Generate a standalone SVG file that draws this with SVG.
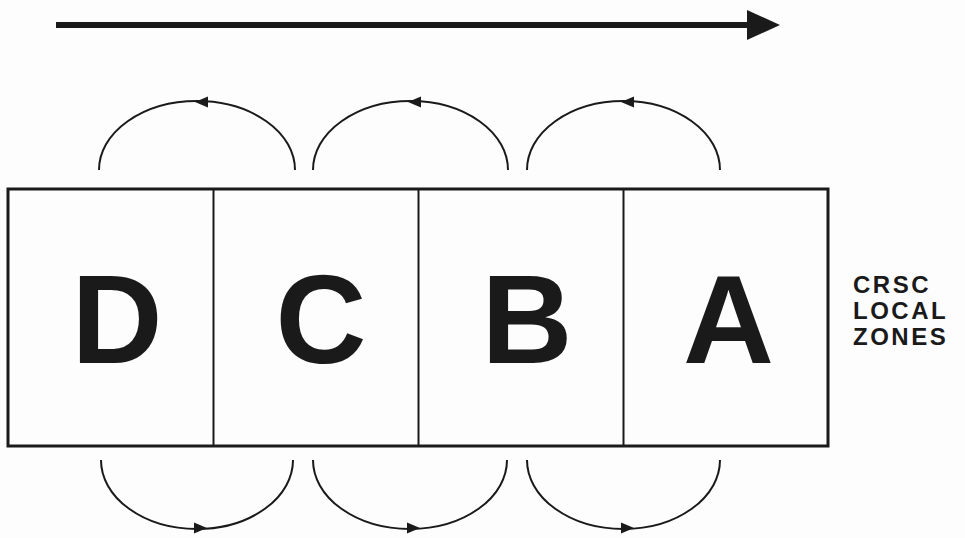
<svg xmlns="http://www.w3.org/2000/svg" width="965" height="538" viewBox="0 0 965 538">
<style>
.arc{fill:none;stroke:#1a1a1a;stroke-width:2}
.head{fill:#1a1a1a}
.zone{font-family:"Liberation Sans",Arial,sans-serif;font-weight:bold;font-size:126px;fill:#1a1a1a;text-anchor:middle}
.lbl{font-family:"Liberation Sans",Arial,sans-serif;font-weight:bold;font-size:24px;fill:#1a1a1a;letter-spacing:2.5px}
</style>
<rect width="965" height="538" fill="#fdfdfd"/>
<g id="connectors">
  <line x1="56" y1="25" x2="750" y2="25" stroke="#1a1a1a" stroke-width="6"/>
  <polygon class="head" points="747,10 780,25 747,40"/>
  <path class="arc" d="M99,170 A98,69 0 0 1 295,170"/>
  <path class="arc" d="M313,170 A97.5,69 0 0 1 508,170"/>
  <path class="arc" d="M527,170 A96.5,69 0 0 1 720,170"/>
  <polygon class="head" points="195,102 208,96.5 208,107.5"/>
  <polygon class="head" points="408,102 421,96.5 421,107.5"/>
  <polygon class="head" points="621,102 634,96.5 634,107.5"/>
  <path class="arc" d="M101,460 A96,69 0 0 0 293,460"/>
  <path class="arc" d="M313,460 A97,69 0 0 0 507,460"/>
  <path class="arc" d="M527,460 A96.5,69 0 0 0 720,460"/>
  <polygon class="head" points="207,528 194,522.5 194,533.5"/>
  <polygon class="head" points="420,528 407,522.5 407,533.5"/>
  <polygon class="head" points="634,528 621,522.5 621,533.5"/>
</g>
<g id="zones">
  <rect x="8" y="189" width="820" height="257" fill="none" stroke="#1a1a1a" stroke-width="3"/>
  <line x1="213.5" y1="189" x2="213.5" y2="446" stroke="#1a1a1a" stroke-width="2"/>
  <line x1="418.5" y1="189" x2="418.5" y2="446" stroke="#1a1a1a" stroke-width="2"/>
  <line x1="623.5" y1="189" x2="623.5" y2="446" stroke="#1a1a1a" stroke-width="2"/>
</g>
<g id="zone-D"><text class="zone" x="117" y="363">D</text></g>
<g id="zone-C"><text class="zone" x="321" y="363">C</text></g>
<g id="zone-B"><text class="zone" x="527" y="363">B</text></g>
<g id="zone-A"><text class="zone" x="728.5" y="363">A</text></g>
<g id="label">
  <text class="lbl" x="853" y="293">CRSC</text>
  <text class="lbl" x="853" y="319">LOCAL</text>
  <text class="lbl" x="853" y="345">ZONES</text>
</g>
</svg>
